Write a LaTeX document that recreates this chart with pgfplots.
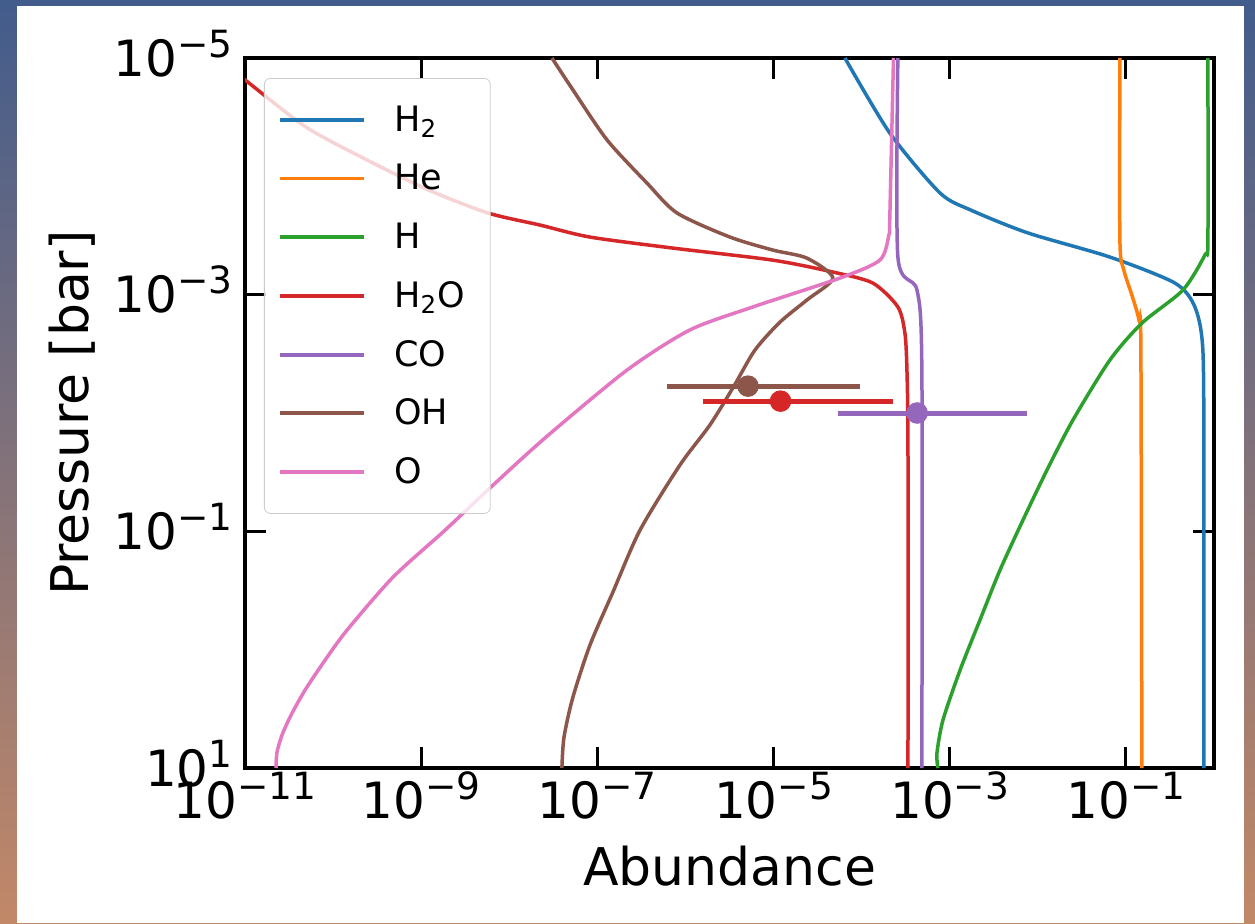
\documentclass[border=0pt]{standalone}
\usepackage{fontspec}
\setmainfont{DejaVu Sans}
\usepackage{pgfplots}
\pgfplotsset{compat=1.18}
\definecolor{tabblue}{HTML}{1F77B4}
\definecolor{taborange}{HTML}{FF7F0E}
\definecolor{tabgreen}{HTML}{2CA02C}
\definecolor{tabred}{HTML}{D62728}
\definecolor{tabpurple}{HTML}{9467BD}
\definecolor{tabbrown}{HTML}{8C564B}
\definecolor{tabpink}{HTML}{E377C2}
\definecolor{bgtop}{RGB}{66,92,140}
\definecolor{bgmid}{RGB}{125,122,150}
\definecolor{bgbot}{RGB}{194,136,104}
\newcommand{\tl}[1]{10\raisebox{0.38em}{\fontsize{18.75}{20}\selectfont #1}}
\begin{document}
\begin{tikzpicture}
\path[use as bounding box] (0,0) rectangle (627.5pt,461.5pt);
\shade[top color=bgtop, middle color=bgmid, bottom color=bgbot] (0,0) rectangle (627.5pt,461.5pt);
\fill[white] (8.5pt,0) rectangle (622pt,458.5pt);
\begin{axis}[
  at={(122.5pt,77.5pt)}, anchor=south west,
  scale only axis, width=484.5pt, height=355pt,
  xmode=log, ymode=log, y dir=reverse,
  xmin=1e-11, xmax=1, ymin=1e-5, ymax=10,
  xtick={1e-11,1e-9,1e-7,1e-5,1e-3,1e-1},
  xticklabels={\tl{−11},\tl{−9},\tl{−7},\tl{−5},\tl{−3},\tl{−1}},
  ytick={1e-5,1e-3,1e-1,10},
  yticklabels={\tl{−5},\tl{−3},\tl{−1},\tl{1}},
  xminorticks=false, yminorticks=false,
  tick align=inside, tick pos=both,
  major tick length=10.5pt,
  tick style={black, line width=1.6pt},
  axis line style={line width=2pt},
  tick label style={font=\fontsize{25}{30}\selectfont},
  xticklabel style={anchor=base, inner sep=0pt, yshift=-25pt},
  yticklabel style={anchor=base east, inner sep=0pt, xshift=-6pt, yshift=-9.1pt},
  xlabel={Abundance}, ylabel={Pressure [bar]},
  every axis x label/.style={at={(axis description cs:0.5,-0.1648)}, anchor=base, font=\fontsize{26}{30}\selectfont},
  every axis y label/.style={at={(axis description cs:-0.161,0.5)}, rotate=90, anchor=base, font=\fontsize{26}{30}\selectfont},
  legend style={at={(axis description cs:0.0196,0.9718)}, anchor=north west,
    draw=black!20, rounded corners=3pt, fill=white, fill opacity=0.8, text opacity=1, draw opacity=1,
    font=\fontsize{17.5}{20}\selectfont, inner xsep=7pt, inner ysep=12pt, row sep=11.95pt,
    column sep=0pt,
    nodes={inner sep=0pt, text height=14.4pt, text depth=3pt}},
  legend cell align=left,
  legend image code/.code={\draw[#1, line width=1.9pt] (0pt,0pt) -- (42pt,0pt);\path[draw=none] (0pt,0pt) (57pt,0pt);},
  every axis plot/.append style={line width=1.75pt},
]
\addplot[tabblue, smooth, tension=0.45] coordinates {(6.46e-5,1e-5) (2.09e-4,4.31e-5) (7.74e-4,1.38e-4) (1.74e-3,1.93e-4) (7.73e-3,3.01e-4) (6.58e-2,4.81e-4) (0.360,7.98e-4) (0.607,1.27e-3) (0.748,2.94e-3) (0.769,3.69e-2) (0.769,10)};
\addlegendentry{\makebox[41pt][l]{H\textsubscript{2}}}
\addplot[taborange, smooth, tension=0.45] coordinates {(8.55e-2,1e-5) (8.55e-2,3.45e-4) (9.48e-2,6.19e-4) (0.117,1.01e-3) (0.1406,1.64e-3) (0.148,2.94e-3) (0.152,10)};
\addlegendentry{He}
\addplot[tabgreen, smooth, tension=0.45] coordinates {(0.853,1e-5) (0.853,3.45e-4) (0.789,4.62e-4) (0.444,9.14e-4) (0.152,1.74e-3) (6.58e-2,3.57e-3) (2.50e-2,1.15e-2) (1.27e-2,3.04e-2) (6.78e-3,8.04e-2) (3.72e-3,0.213) (2.20e-3,0.564) (1.31e-3,1.49) (8.38e-4,3.94) (7.16e-4,7.50) (7.35e-4,10)};
\addlegendentry{H}
\addplot[tabred, smooth, tension=0.45] coordinates {(6.31e-12,1.175e-5) (1e-11,1.53e-5) (4.92e-11,3.83e-5) (2.43e-10,7.28e-5) (1.23e-9,1.31e-4) (5.73e-9,2.04e-4) (2.23e-8,2.58e-4) (8.24e-8,3.26e-4) (7.21e-7,4.04e-4) (9.84e-6,5.11e-4) (4.72e-5,6.44e-4) (1.34e-4,7.98e-4) (2.58e-4,1.27e-3) (3.10e-4,2.11e-3) (3.27e-4,4.34e-3) (3.36e-4,2.06e-2) (3.36e-4,10)};
\addlegendentry{H\textsubscript{2}O}
\addplot[tabpurple, smooth, tension=0.45] coordinates {(2.58e-4,1e-5) (2.58e-4,4.81e-4) (4.25e-4,9.14e-4) (4.83e-4,4.34e-3) (4.83e-4,10)};
\addlegendentry{CO}
\addplot[tabbrown, smooth, tension=0.45] coordinates {(3.05e-8,1e-5) (5.28e-8,1.86e-5) (1.29e-7,4.93e-5) (3.66e-7,1.14e-4) (8.02e-7,2.04e-4) (3.20e-6,3.26e-4) (9.84e-6,4.20e-4) (2.39e-5,4.91e-4) (4.72e-5,7.24e-4) (2.39e-5,1.11e-3) (1.18e-5,1.71e-3) (6.15e-6,2.94e-3) (3.55e-6,5.93e-3) (1.90e-6,1.26e-2) (8.67e-7,2.75e-2) (3.05e-7,9.77e-2) (1.50e-7,0.327) (8.24e-8,0.916) (5.28e-8,2.52) (4.18e-8,5.50) (3.96e-8,10)};
\addlegendentry{OH}
\addplot[tabpink, smooth, tension=0.45] coordinates {(2.30e-4,1e-5) (2.09e-4,2.21e-4) (2.04e-4,3.13e-4) (1.61e-4,5.11e-4) (5.68e-5,7.24e-4) (5.83e-6,1.27e-3) (1.12e-6,1.99e-3) (2.17e-7,4.34e-3) (2.61e-8,1.60e-2) (6.19e-9,4.23e-2) (1.82e-9,9.95e-2) (4.79e-10,0.244) (1.44e-10,0.684) (8.09e-11,1.23) (4.80e-11,2.20) (3.33e-11,3.58) (2.63e-11,5.28) (2.31e-11,7.35) (2.25e-11,10)};
\addlegendentry{O}
% retrieved abundances with horizontal error bars
\addplot[tabbrown, line width=2.5pt, forget plot] coordinates {(6.17e-7,5.93e-3) (9.55e-5,5.93e-3)};
\addplot[tabbrown, only marks, mark=*, mark size=4.5pt, forget plot] coordinates {(5.13e-6,5.93e-3)};
\addplot[tabred, line width=2.5pt, forget plot] coordinates {(1.585e-6,7.94e-3) (2.26e-4,7.94e-3)};
\addplot[tabred, only marks, mark=*, mark size=4.5pt, forget plot] coordinates {(1.20e-5,7.94e-3)};
\addplot[tabpurple, line width=2.5pt, forget plot] coordinates {(5.37e-5,1e-2) (7.59e-3,1e-2)};
\addplot[tabpurple, only marks, mark=*, mark size=4.5pt, forget plot] coordinates {(4.27e-4,1e-2)};
\end{axis}
\end{tikzpicture}
\end{document}
